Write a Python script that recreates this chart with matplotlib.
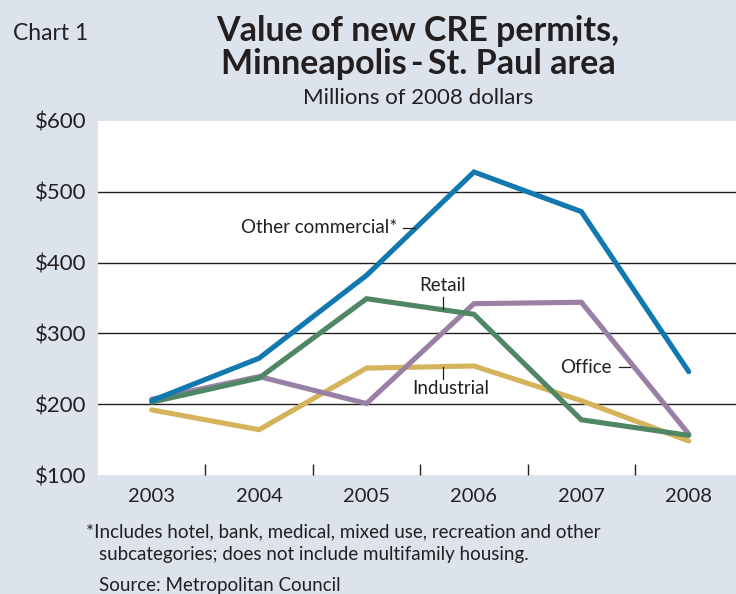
import matplotlib.pyplot as plt
from matplotlib.ticker import FixedLocator

# Value of new commercial real estate permits, millions of 2008 dollars
years = ["2003", "2004", "2005", "2006", "2007", "2008"]
other_commercial = [205, 265, 382, 528, 472, 246]
retail = [203, 237, 349, 327, 178, 156]
office = [207, 239, 201, 342, 344, 158]
industrial = [192, 164, 251, 254, 205, 148]

y_ticks = [100, 200, 300, 400, 500, 600]
y_labels = ["$100", "$200", "$300", "$400", "$500", "$600"]

bg = "#dce3ec"
c_blue = "#1179b0"
c_green = "#4f8664"
c_purple = "#9a80a4"
c_gold = "#d5b35b"
ink = "#231f20"

plt.rcParams["font.family"] = ["Lato", "DejaVu Sans"]

fig = plt.figure(figsize=(7.36, 5.94), dpi=100, facecolor=bg)
ax = fig.add_axes([0.1332, 0.2003, 0.8668, 0.5960])
ax.set_facecolor("white")

x = list(range(len(years)))
lw = 3.7
# draw order: industrial under, other commercial on top
ax.plot(x, industrial, color=c_gold, lw=lw, solid_capstyle="round", solid_joinstyle="miter", zorder=3)
ax.plot(x, office, color=c_purple, lw=lw, solid_capstyle="round", solid_joinstyle="miter", zorder=4)
ax.plot(x, retail, color=c_green, lw=lw, solid_capstyle="round", solid_joinstyle="miter", zorder=5)
ax.plot(x, other_commercial, color=c_blue, lw=lw, solid_capstyle="round", solid_joinstyle="miter", zorder=6)

ax.set_xlim(-0.5, 5.44)
ax.set_ylim(100, 600)

# horizontal grid lines at inner ticks only
for v in y_ticks[1:-1]:
    ax.axhline(v, color=ink, lw=1.0, zorder=2)

for s in ax.spines.values():
    s.set_visible(False)

ax.set_yticks(y_ticks)
ax.set_yticklabels(y_labels, fontsize=16, color=ink)
ax.tick_params(axis="y", length=0, pad=8)

ax.set_xticks(x)
ax.set_xticklabels(years, fontsize=14.5, color=ink)
ax.tick_params(axis="x", which="major", length=0, pad=9)
ax.xaxis.set_minor_locator(FixedLocator([i + 0.5 for i in range(len(years) - 1)]))
ax.tick_params(axis="x", which="minor", direction="in", length=8, width=1, color=ink)

# series labels with leader lines
lab = dict(fontsize=13.5, color=ink, zorder=7)
ax.text(2.29, 449, "Other commercial*", ha="right", va="center", **lab)
ax.plot([2.34, 2.45], [449, 449], color=ink, lw=0.9, zorder=7)
ax.text(2.71, 367, "Retail", ha="center", va="center", **lab)
ax.plot([2.71, 2.71], [351, 335], color=ink, lw=0.9, zorder=7)
ax.text(2.78, 222, "Industrial", ha="center", va="center", **lab)
ax.plot([2.71, 2.71], [235, 252], color=ink, lw=0.9, zorder=7)
ax.text(4.28, 252, "Office", ha="right", va="center", **lab)
ax.plot([4.35, 4.45], [252, 252], color=ink, lw=0.9, zorder=7)

# titles
fig.text(0.017, 0.944, "Chart 1", fontsize=16.5, color=ink, ha="left", va="center")
fig.text(0.568, 0.947, "Value of new CRE permits,", fontsize=24.5, fontweight="bold",
         color=ink, ha="center", va="center")
fig.text(0.568, 0.892, "Minneapolis\u2009-\u2009St. Paul area", fontsize=24.5,
         fontweight="bold", color=ink, ha="center", va="center")
fig.text(0.568, 0.835, "Millions of 2008 dollars", fontsize=16, color=ink,
         ha="center", va="center")

# footnotes
fig.text(0.117, 0.104, "*Includes hotel, bank, medical, mixed use, recreation and other",
         fontsize=13.5, color=ink, ha="left", va="center")
fig.text(0.134, 0.066, "subcategories; does not include multifamily housing.",
         fontsize=13.5, color=ink, ha="left", va="center")
fig.text(0.134, 0.014, "Source: Metropolitan Council", fontsize=13.5, color=ink,
         ha="left", va="center")

fig.savefig("out.png", dpi=100, facecolor=bg)
